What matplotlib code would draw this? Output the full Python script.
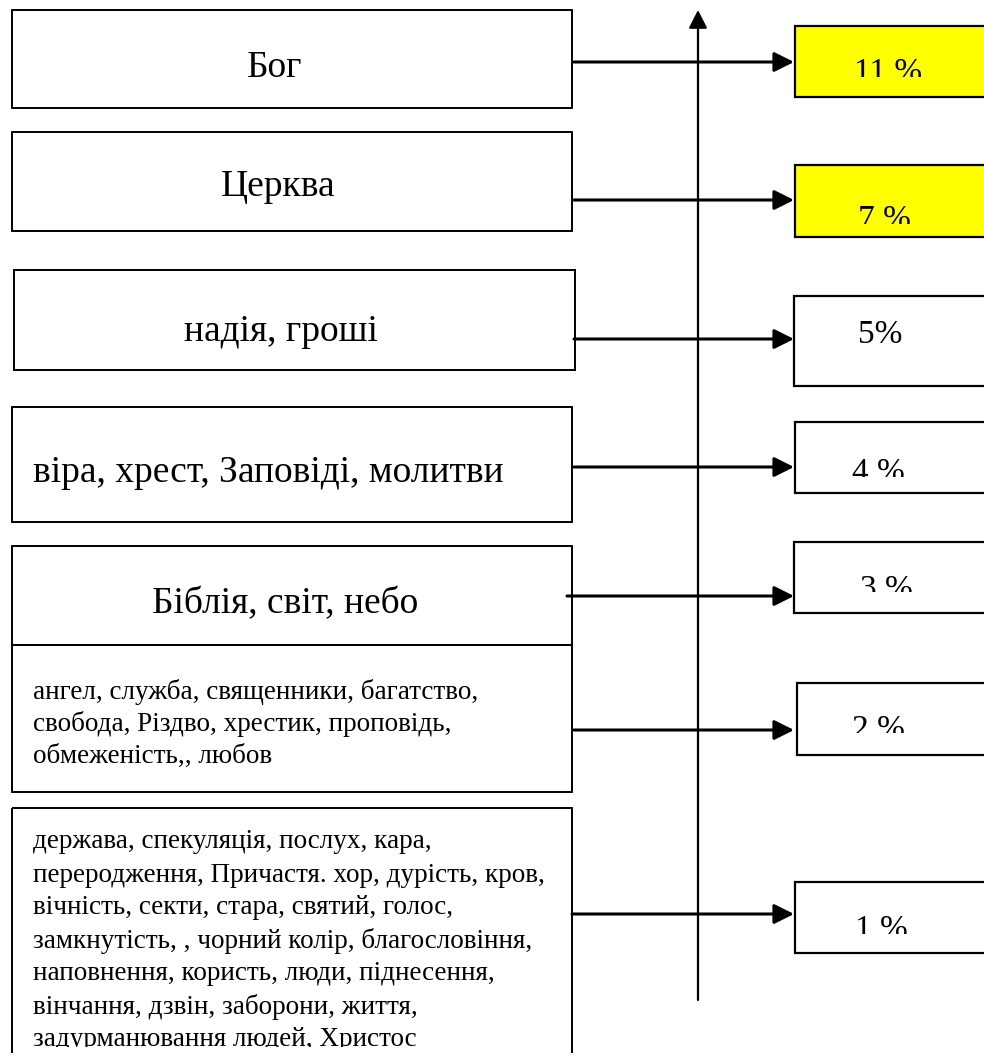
import matplotlib
matplotlib.use("Agg")
import matplotlib.pyplot as plt
from matplotlib.patches import Rectangle

# ─── Дані ─────────────────────────────────────────────────────────────────────
big_labels = ["Бог", "Церква", "надія, гроші", "віра, хрест, Заповіді, молитви", "Біблія, світ, небо"]
small_lines_2 = [
    "ангел, служба, священники, багатство,",
    "свобода, Різдво, хрестик, проповідь,",
    "обмеженість,, любов",
]
small_lines_1 = [
    "держава, спекуляція, послух, кара,",
    "переродження, Причастя. хор, дурість, кров,",
    "вічність, секти, стара, святий, голос,",
    "замкнутість, , чорний колір, благословіння,",
    "наповнення, користь, люди, піднесення,",
    "вінчання, дзвін, заборони, життя,",
    "задурманювання людей, Христос",
]
shares = [11, 7, 5, 4, 3, 2, 1]
share_labels = ["11 %", "7 %", "5%", "4 %", "3 %", "2 %", "1 %"]
share_colors = ["#ffff00", "#ffff00", "white", "white", "white", "white", "white"]

# ─── Розмітка (пікселі) ───────────────────────────────────────────────────────
W, H = 984, 1053
left_boxes = [(12, 10, 572, 108), (12, 132, 572, 231), (14, 270, 575, 370),
              (12, 407, 572, 522), (12, 546, 572, 645), (12, 645, 572, 792),
              (12, 808, 572, 1060)]
big_pos = [(275, 77, "center"), (278, 196, "center"), (281, 341, "center"),
           (33, 482, "left"), (285, 613, "center")]
arrow_y = [62, 200, 339, 467, 596, 730, 914]
arrow_x0 = [574, 574, 574, 574, 567, 574, 572]
arrow_x1 = 794
right_boxes = [(795, 26, 97), (795, 165, 237), (794, 296, 386), (795, 422, 493),
               (794, 542, 613), (797, 683, 755), (795, 882, 953)]
pct_x = [888, 884, 880, 878, 886, 878, 881]
pct_base = [81, 228, 343, 481, 598, 738, 938]
pct_clip = [77, 224, 386, 477, 592, 733, 934]
axis_x = 698

SERIF = "Liberation Serif"

fig = plt.figure(figsize=(W / 100, H / 100), dpi=100)
ax = fig.add_axes([0, 0, 1, 1])
ax.set_xlim(0, W)
ax.set_ylim(H, 0)
ax.axis("off")


def clip_text(t, x0, y0, x1, y1):
    rect = Rectangle((x0, y0), x1 - x0, y1 - y0, transform=ax.transData)
    t.set_clip_path(rect)
    t.set_clip_on(True)


# ── ліві блоки ──
for (x0, y0, x1, y1) in left_boxes:
    ax.add_patch(Rectangle((x0, y0), x1 - x0, y1 - y0, fill=False,
                           edgecolor="black", lw=1.4))

for lab, (x, y, ha) in zip(big_labels, big_pos):
    ax.text(x, y, lab, ha=ha, va="baseline", fontsize=27, family=SERIF)

for i, line in enumerate(small_lines_2):
    ax.text(33, 692 + i * 32, line, ha="left", va="center", fontsize=19.5, family=SERIF)

for i, line in enumerate(small_lines_1):
    t = ax.text(33, 842 + i * 33, line, ha="left", va="center", fontsize=19.5, family=SERIF)
    clip_text(t, 0, 800, W, 1047)

# ── вертикальна вісь ──
ax.annotate("", xy=(axis_x, 10), xytext=(axis_x, 1000),
            arrowprops=dict(arrowstyle="-|>,head_length=0.55,head_width=0.28",
                            lw=1.6, color="black", mutation_scale=20,
                            shrinkA=0, shrinkB=0))

# ── стрілки ──
for y, x0 in zip(arrow_y, arrow_x0):
    ax.annotate("", xy=(arrow_x1, y), xytext=(x0, y),
                arrowprops=dict(arrowstyle="-|>,head_length=0.6,head_width=0.3",
                                lw=2.2, color="black", mutation_scale=20,
                                shrinkA=0, shrinkB=0))

# ── праві блоки з відсотками ──
for (x0, y0, y1), lab, col, px, pb, pc in zip(right_boxes, share_labels, share_colors,
                                             pct_x, pct_base, pct_clip):
    ax.add_patch(Rectangle((x0, y0), W + 20 - x0, y1 - y0, facecolor=col,
                           edgecolor="black", lw=1.6))
    t = ax.text(px, pb, lab, ha="center", va="baseline", fontsize=24, family=SERIF)
    clip_text(t, x0, y0, W, pc)

fig.savefig("out.png", dpi=100)
